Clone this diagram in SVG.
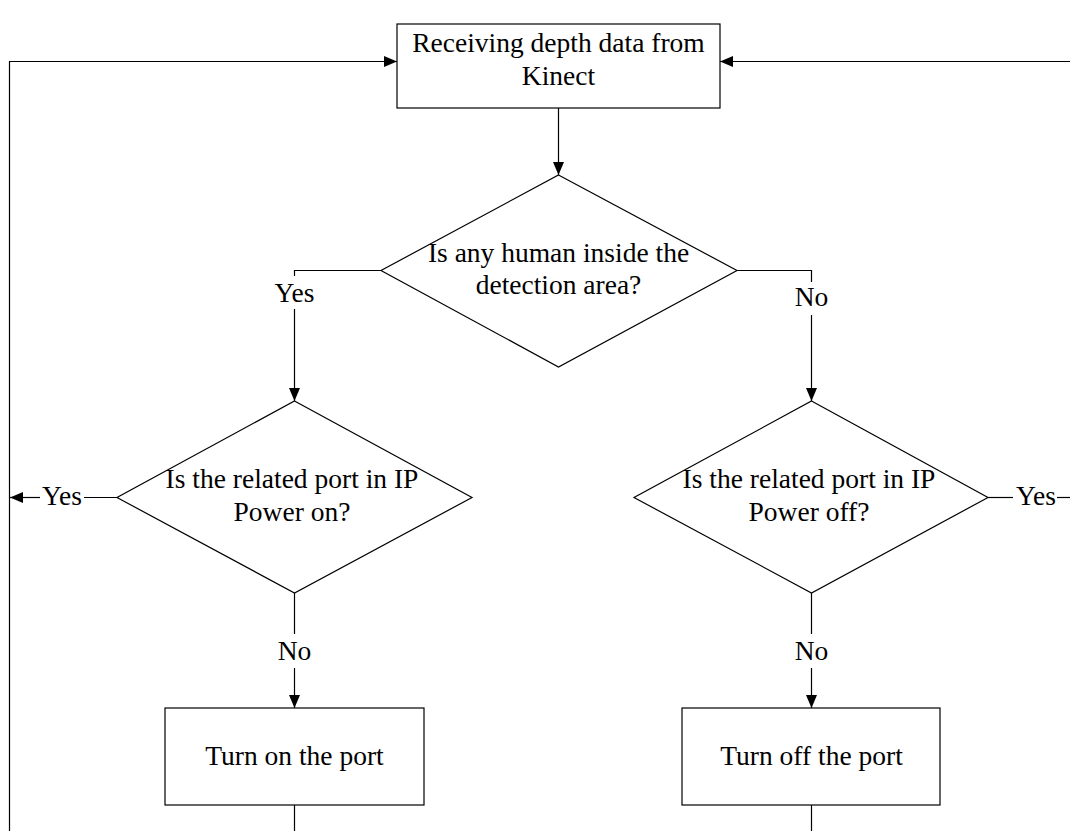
<svg xmlns="http://www.w3.org/2000/svg" width="1070" height="831" viewBox="0 0 1070 831">
<style>
.s{fill:#fff;stroke:#000;stroke-width:1.2}
.c{fill:none;stroke:#000;stroke-width:1.2}
text{font-family:"Liberation Serif","Times New Roman",serif;font-size:27.5px;fill:#000;text-anchor:middle}
</style>
<defs>
<marker id="ah" markerWidth="13" markerHeight="11" refX="13" refY="5.5" orient="auto" markerUnits="userSpaceOnUse">
<path d="M0,0 L13,5.5 L0,11 Z" fill="#000"/>
</marker>
</defs>
<rect width="1070" height="831" fill="#fff"/>
<g id="connectors">
<path class="c" d="M558.5,108 V175" marker-end="url(#ah)"/>
<path class="c" d="M381,270.5 H294.5 V276"/>
<path class="c" d="M294.5,309 V401" marker-end="url(#ah)"/>
<path class="c" d="M737,270.5 H811.5 V282"/>
<path class="c" d="M811.5,315 V401" marker-end="url(#ah)"/>
<path class="c" d="M117,497.5 H84"/>
<path class="c" d="M40,497.5 H10" marker-end="url(#ah)"/>
<path class="c" d="M988,497.5 H1013"/>
<path class="c" d="M1057,497.5 H1072"/>
<path class="c" d="M294.5,593 V634"/>
<path class="c" d="M294.5,668 V708" marker-end="url(#ah)"/>
<path class="c" d="M811.5,593 V634"/>
<path class="c" d="M811.5,668 V708" marker-end="url(#ah)"/>
<path class="c" d="M294.5,805 V832"/>
<path class="c" d="M811.5,805 V832"/>
<path class="c" d="M9.5,832 V61.5 H397" marker-end="url(#ah)"/>
<path class="c" d="M1072,61.5 H720" marker-end="url(#ah)"/>
<text x="294.5" y="302">Yes</text>
<text x="811.5" y="306">No</text>
<text x="62" y="505">Yes</text>
<text x="1036" y="505">Yes</text>
<text x="294.5" y="660">No</text>
<text x="811.5" y="660">No</text>
</g>
<g id="start">
<rect class="s" x="397" y="24" width="323" height="84"/>
<text x="558.5" y="52">Receiving depth data from</text>
<text x="558.5" y="85">Kinect</text>
</g>
<g id="human">
<polygon class="s" points="558.5,175 737,270.5 558.5,367 381,270.5"/>
<text x="558.5" y="262">Is any human inside the</text>
<text x="558.5" y="294">detection area?</text>
</g>
<g id="poweron">
<polygon class="s" points="294.5,401 472,497.5 294.5,593 117,497.5"/>
<text x="292" y="488">Is the related port in IP</text>
<text x="292" y="521">Power on?</text>
</g>
<g id="poweroff">
<polygon class="s" points="811.5,401 988,497.5 811.5,593 634,497.5"/>
<text x="809" y="488">Is the related port in IP</text>
<text x="809" y="521">Power off?</text>
</g>
<g id="turnon">
<rect class="s" x="165" y="708" width="259" height="97"/>
<text x="294.5" y="765">Turn on the port</text>
</g>
<g id="turnoff">
<rect class="s" x="682" y="708" width="258" height="97"/>
<text x="811.5" y="765">Turn off the port</text>
</g>
</svg>
